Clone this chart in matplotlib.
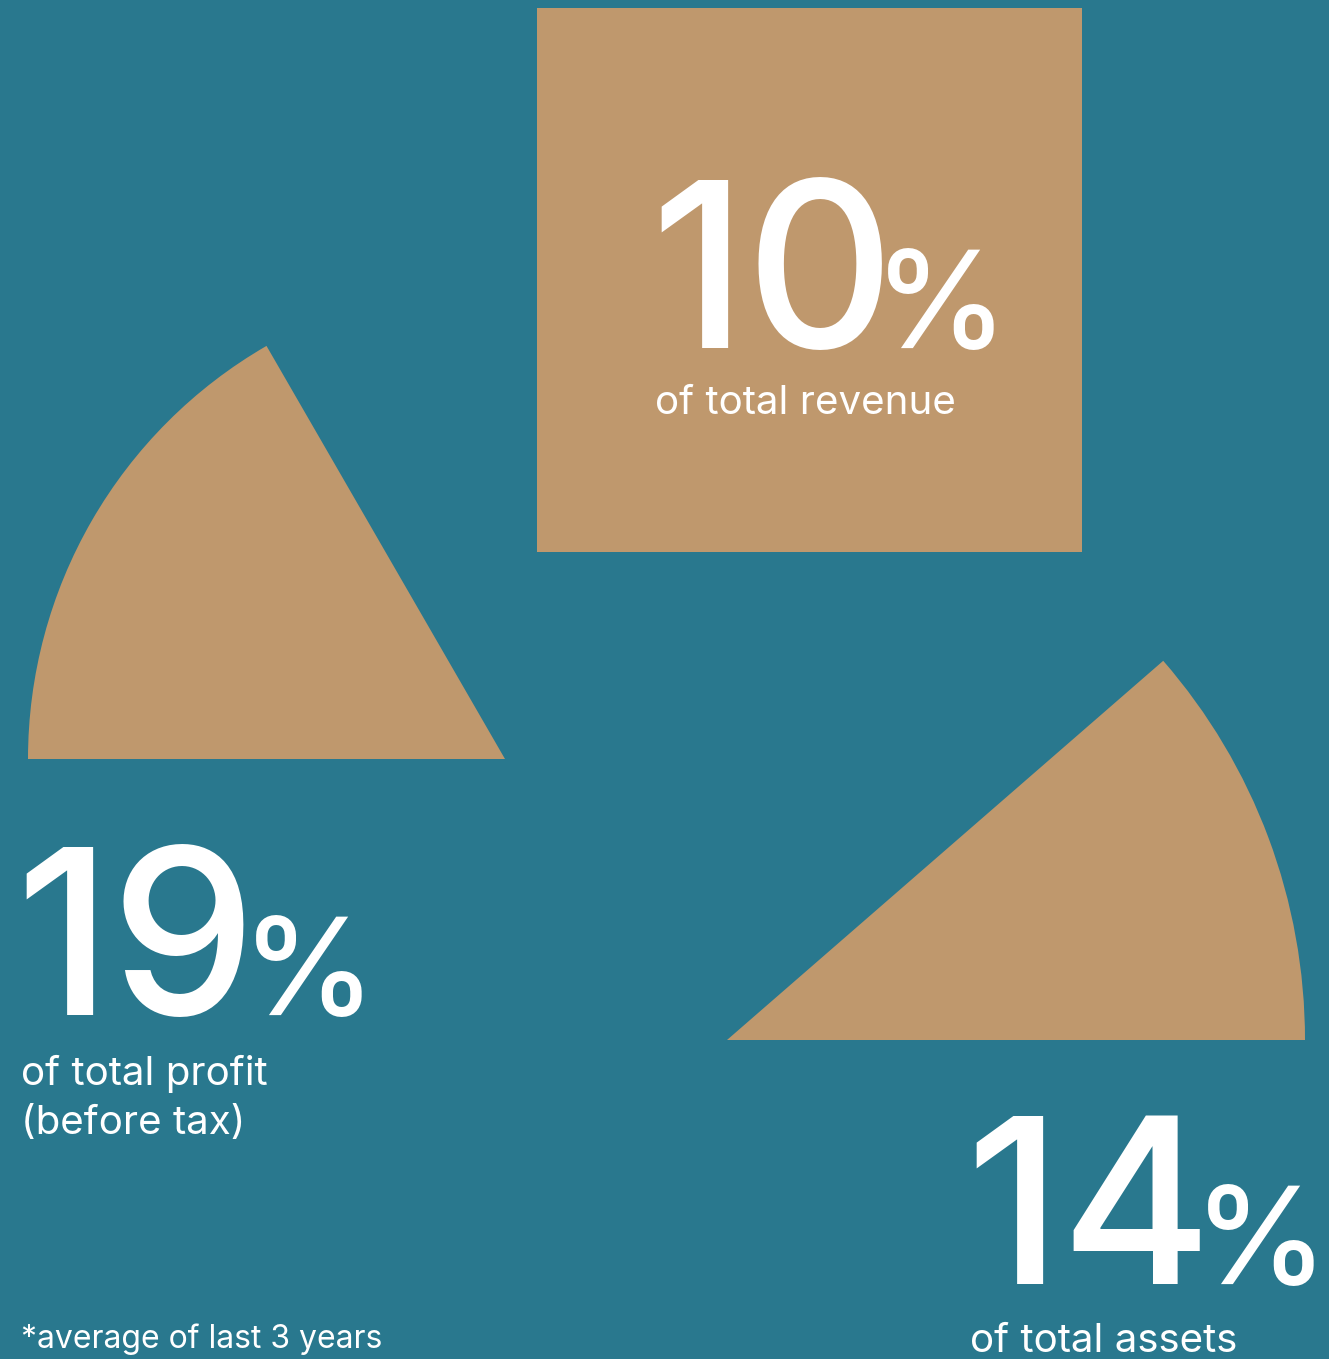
import matplotlib
matplotlib.use("Agg")
import matplotlib.pyplot as plt
from matplotlib.patches import Rectangle, Wedge

# values shown on the graphic
shares = [10, 19, 14]
captions = ["of total revenue", "of total profit\n(before tax)", "of total assets"]
footnote = "*average of last 3 years"

# shape spans (degrees) of the two slices as drawn
profit_span = (120, 180)
assets_span = (0, 41)

teal = "#29788E"
tan = "#BF986D"
W, H = 1329, 1359
FONT = "Inter"

fig = plt.figure(figsize=(W / 100, H / 100), dpi=100, facecolor=teal)
ax = fig.add_axes([0, 0, 1, 1])
ax.set_xlim(0, W)
ax.set_ylim(0, H)
ax.set_facecolor(teal)
ax.axis("off")

# shapes
ax.add_patch(Rectangle((537, H - 552), 545, 544, color=tan, lw=0))
ax.add_patch(Wedge((505, H - 759), 477, profit_span[0], profit_span[1], color=tan, lw=0))
ax.add_patch(Wedge((727, H - 1040), 578, assets_span[0], assets_span[1], color=tan, lw=0))

big = dict(family=FONT, fontsize=166, color="white", va="baseline", ha="left", weight="medium")
pct = dict(family=FONT, fontsize=97, color="white", va="baseline", ha="left", weight="medium")
body = dict(family=FONT, fontsize=29, color="white", va="baseline", ha="left")


def big_number(x, xp, base, value):
    ax.text(x, H - base, str(value), **big)
    ax.text(xp, H - base, "%", **pct)


# 10% of revenue
big_number(650, 874, 348, shares[0])
ax.text(655, H - 414, captions[0], **body)

# 19% of profit
big_number(15, 242, 1015, shares[1])
line1, line2 = captions[1].split("\n")
ax.text(21, H - 1085, line1, **body)
ax.text(21, H - 1134, line2, **body)

# 14% of assets
big_number(965, 1194, 1284, shares[2])
ax.text(970, H - 1352, captions[2], **body)

ax.text(21, H - 1348, footnote, family=FONT, fontsize=23, color="white",
        va="baseline", ha="left")

fig.savefig("out.png", dpi=100, facecolor=teal)
